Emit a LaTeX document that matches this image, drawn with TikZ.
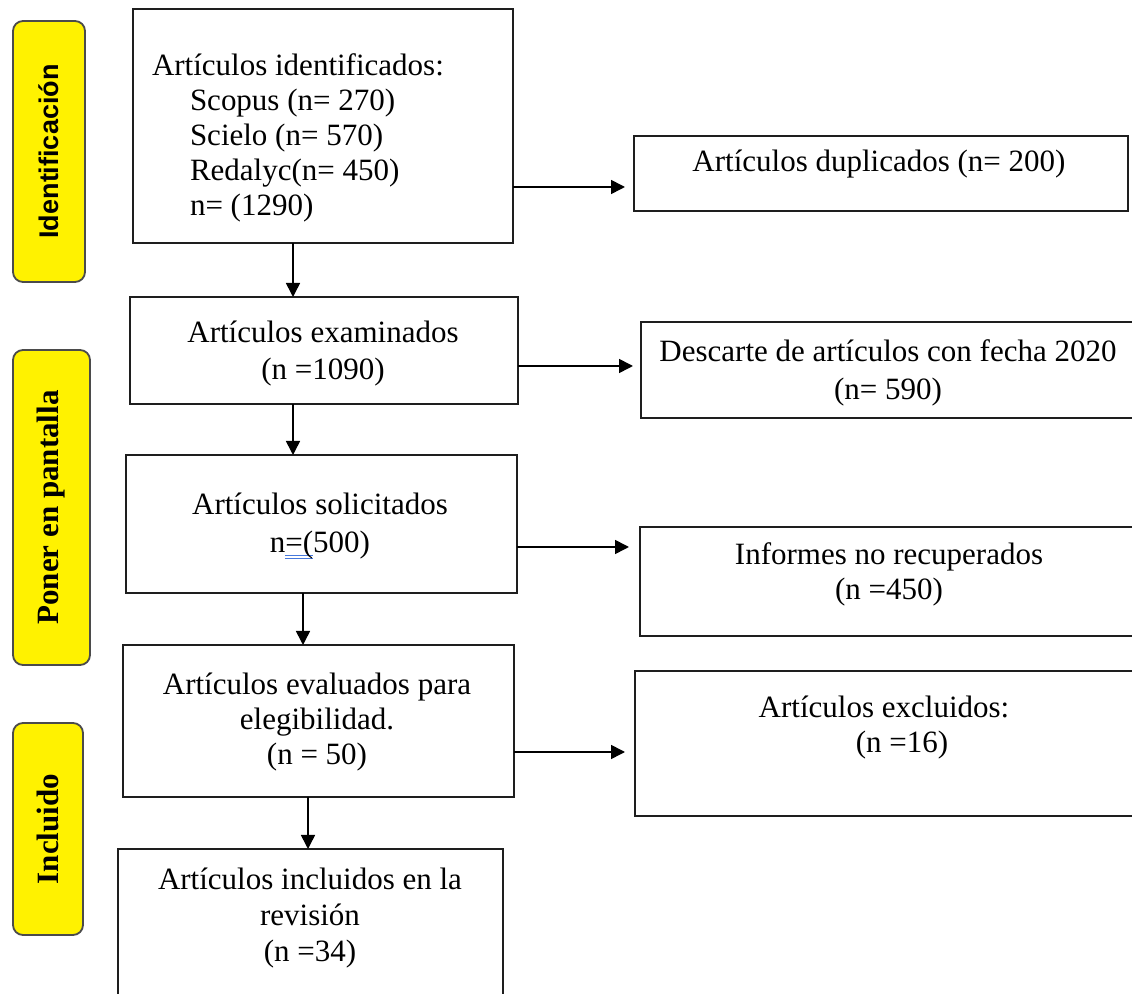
\documentclass[tikz,border=0pt]{standalone}
\usepackage{fontspec}
\setmainfont{Liberation Serif}
\newfontfamily\labsans{Liberation Sans}
\usetikzlibrary{arrows.meta}
\definecolor{ulblue}{RGB}{70,120,220}
\definecolor{bordergray}{RGB}{30,30,30}
\newcommand\myfs[1]{\fontsize{15.5pt}{#1pt}\selectfont}
\tikzset{
  box/.style={draw=bordergray, line width=1pt, fill=white, inner sep=0pt, outer sep=0pt},
  side/.style={draw=bordergray!80, line width=0.9pt, fill=yellow, rounded corners=5pt, inner sep=0pt, outer sep=0pt},
  txt/.style={inner sep=0pt, outer sep=0pt, anchor=base, align=center},
  arr/.style={draw=black, line width=0.8pt, -{Triangle[length=7pt,width=7pt]}},
}
\begin{document}
\begin{tikzpicture}[x=0.5pt,y=-0.5pt]
\useasboundingbox (0,0) rectangle (1132,994);
\clip (0,0) rectangle (1132,994);
\fill[white] (0,0) rectangle (1132,994);

% yellow side labels
\node[side, minimum width=36pt, minimum height=130.5pt] (y1) at (49,151.5) {};
\node[side, minimum width=38.5pt, minimum height=157.5pt] (y2) at (51.5,507.5) {};
\node[side, minimum width=35pt, minimum height=106pt] (y3) at (48,829) {};
\node[rotate=90, inner sep=0pt, font=\labsans\bfseries\fontsize{13.5pt}{16pt}\selectfont] (ly1) at (y1.center) {Identificación};
\node[rotate=90, inner sep=0pt, font=\bfseries\myfs{18}] (ly2) at (y2.center) {Poner en pantalla};
\node[rotate=90, inner sep=0pt, font=\bfseries\myfs{18}] (ly3) at (y3.center) {Incluido};

% main column boxes
\node[box, minimum width=190pt, minimum height=117pt] (b1) at (323,126) {};
\node[box, minimum width=194pt, minimum height=53.5pt] (b2) at (324,350.5) {};
\node[box, minimum width=195.5pt, minimum height=69pt] (b3) at (321.5,524) {};
\node[box, minimum width=195.5pt, minimum height=76pt] (b4) at (318.5,721) {};
\node[box, minimum width=192.5pt, minimum height=80.5pt] (b5) at (310.5,929.5) {};

% right boxes
\node[box, minimum width=247pt, minimum height=37.5pt] (r1) at (881,173.5) {};
\node[box, minimum width=252pt, minimum height=48pt] (r2) at (893,370) {};
\node[box, minimum width=252.5pt, minimum height=54.5pt] (r3) at (892.5,581.5) {};
\node[box, minimum width=255pt, minimum height=72.5pt] (r4) at (890,743.5) {};

% texts (anchor base = baseline of the last line)
\node[txt, anchor=base west, align=left, font=\myfs{17.6}] (t1) at (152,216)
  {Artículos identificados:\\
   \hspace*{19pt}Scopus (n= 270)\\
   \hspace*{19pt}Scielo (n= 570)\\
   \hspace*{19pt}Redalyc(n= 450)\\
   \hspace*{19pt}n= (1290)};
\node[txt, font=\myfs{18.5}] (t2) at (323,380) {Artículos examinados\\(n =1090)};
\node[txt, font=\myfs{19}] (t3) at (320,553)
  {Artículos solicitados\\n\mbox{\rlap{\color{ulblue}\rule[-1.5pt]{14pt}{0.6pt}}\rlap{\color{ulblue}\rule[-3pt]{14pt}{0.6pt}}=(}500)};
\node[txt, font=\myfs{17.5}] (t4) at (317,765) {Artículos evaluados para\\elegibilidad.\\(n = 50)};
\node[txt, font=\myfs{18}] (t5) at (310,962) {Artículos incluidos en la\\revisión\\(n =34)};
\node[txt, font=\myfs{18}] (tr1) at (879,172) {Artículos duplicados (n= 200)};
\node[txt, font=\myfs{19}] (tr2) at (888,400) {Descarte de artículos con fecha 2020\\(n= 590)};
\node[txt, font=\myfs{17.5}] (tr3) at (889,600) {Informes no recuperados\\(n =450)};
\node[txt, font=\myfs{17.5}] (tr4) at (884,753) {Artículos excluidos:\\\hspace*{18pt}(n =16)};

% connector guide coordinates
\coordinate (h1) at (0,187);
\coordinate (h2) at (0,366);
\coordinate (h3) at (0,547);
\coordinate (h4) at (0,752);
\coordinate (v1) at (293,0);
\coordinate (v2) at (293,0);
\coordinate (v3) at (303,0);
\coordinate (v4) at (308,0);

% horizontal arrows
\draw[arr, shorten >=4.5pt] (b1.east |- h1) -- (r1.west |- h1);
\draw[arr, shorten >=4pt] (b2.east |- h2) -- (r2.west |- h2);
\draw[arr, shorten >=5.5pt] (b3.east |- h3) -- (r3.west |- h3);
\draw[arr, shorten >=5pt] (b4.east |- h4) -- (r4.west |- h4);

% vertical arrows
\draw[arr] (b1.south -| v1) -- (b2.north -| v1);
\draw[arr] (b2.south -| v2) -- (b3.north -| v2);
\draw[arr] (b3.south -| v3) -- (b4.north -| v3);
\draw[arr] (b4.south -| v4) -- (b5.north -| v4);
\end{tikzpicture}
\end{document}
